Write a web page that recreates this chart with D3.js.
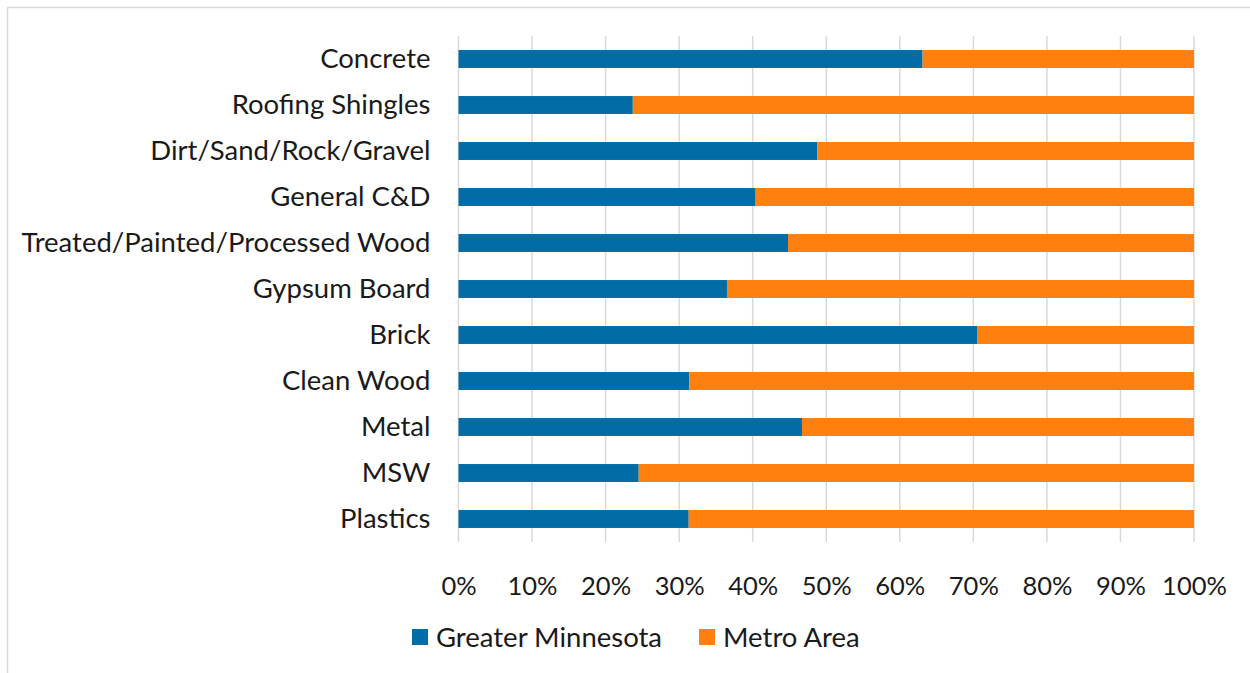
<!DOCTYPE html>
<html>
<head>
<meta charset="utf-8">
<script src="https://cdn.jsdelivr.net/npm/d3@7"></script>
<style>
  body { margin: 0; background: #fff; }
  text { font-family: Lato, "Open Sans", sans-serif; fill: #1a1a1a; }
</style>
</head>
<body>
<div id="chart"></div>
<script>
var svgWidth = 1250;
var svgHeight = 673;

var categories = ["Concrete", "Roofing Shingles", "Dirt/Sand/Rock/Gravel", "General C&D",
  "Treated/Painted/Processed Wood", "Gypsum Board", "Brick", "Clean Wood", "Metal", "MSW", "Plastics"];
var greaterMN = [63.1, 23.7, 48.8, 40.4, 44.8, 36.5, 70.5, 31.4, 46.7, 24.5, 31.3];
var metroArea = [36.9, 76.3, 51.2, 59.6, 55.2, 63.5, 29.5, 68.6, 53.3, 75.5, 68.7];
var seriesNames = ["Greater Minnesota", "Metro Area"];
var colors = ["#026CA6", "#FF800E"];
var tickValues = [0, 10, 20, 30, 40, 50, 60, 70, 80, 90, 100];

var margin = { left: 458.5, right: 56, top: 36, bottom: 131 };
var width = svgWidth - margin.left - margin.right;
var height = svgHeight - margin.top - margin.bottom;

var svg = d3.select("#chart")
  .append("svg")
  .attr("width", svgWidth)
  .attr("height", svgHeight);

// outer border
svg.append("rect")
  .attr("x", 7.5).attr("y", 7.5)
  .attr("width", svgWidth).attr("height", svgHeight)
  .attr("fill", "none")
  .attr("stroke", "#d9d9d9")
  .attr("stroke-width", 1.5);

var chartGroup = svg.append("g")
  .attr("transform", `translate(${margin.left}, ${margin.top})`);

var data = categories.map(function(c, i) {
  return { cat: c, a: greaterMN[i], b: metroArea[i] };
});

var xScale = d3.scaleLinear().domain([0, 100]).range([0, width]);
var yScale = d3.scaleBand().domain(categories).range([0, height]).paddingInner(0.61).paddingOuter(0.305);

// gridlines
chartGroup.selectAll(".grid")
  .data(tickValues)
  .enter()
  .append("line")
  .attr("x1", d => xScale(d)).attr("x2", d => xScale(d))
  .attr("y1", 0).attr("y2", height)
  .attr("stroke", "#d9d9d9")
  .attr("stroke-width", 1.5);

// bars
var rows = chartGroup.selectAll(".row")
  .data(data)
  .enter()
  .append("g");

rows.append("rect")
  .attr("x", xScale(0))
  .attr("y", d => yScale(d.cat))
  .attr("width", d => xScale(d.a) - xScale(0))
  .attr("height", yScale.bandwidth())
  .attr("fill", colors[0]);

rows.append("rect")
  .attr("x", d => xScale(d.a))
  .attr("y", d => yScale(d.cat))
  .attr("width", d => xScale(d.a + d.b) - xScale(d.a))
  .attr("height", yScale.bandwidth())
  .attr("fill", colors[1]);

// axes
var leftAxis = d3.axisLeft(yScale).tickSize(0).tickPadding(28);
var yAxisG = chartGroup.append("g").call(leftAxis);
yAxisG.select(".domain").remove();
yAxisG.selectAll("text").attr("font-size", "27.5px").style("fill", "#1a1a1a");

var bottomAxis = d3.axisBottom(xScale).tickValues(tickValues).tickSize(0).tickPadding(35)
  .tickFormat(d => d + "%");
var xAxisG = chartGroup.append("g")
  .attr("transform", `translate(0, ${height})`)
  .call(bottomAxis);
xAxisG.select(".domain").remove();
xAxisG.selectAll("text").attr("font-size", "25.5px").style("fill", "#1a1a1a");

// legend
var legendItems = [
  { name: seriesNames[0], color: colors[0], x: 412 },
  { name: seriesNames[1], color: colors[1], x: 699 }
];
var legend = svg.selectAll(".legend")
  .data(legendItems)
  .enter()
  .append("g")
  .attr("transform", d => `translate(${d.x}, 629)`);

legend.append("rect")
  .attr("width", 16).attr("height", 16)
  .attr("fill", d => d.color);

legend.append("text")
  .attr("x", 24).attr("y", 8)
  .attr("dy", "0.35em")
  .attr("font-size", "27.5px")
  .text(d => d.name);
</script>
</body>
</html>
